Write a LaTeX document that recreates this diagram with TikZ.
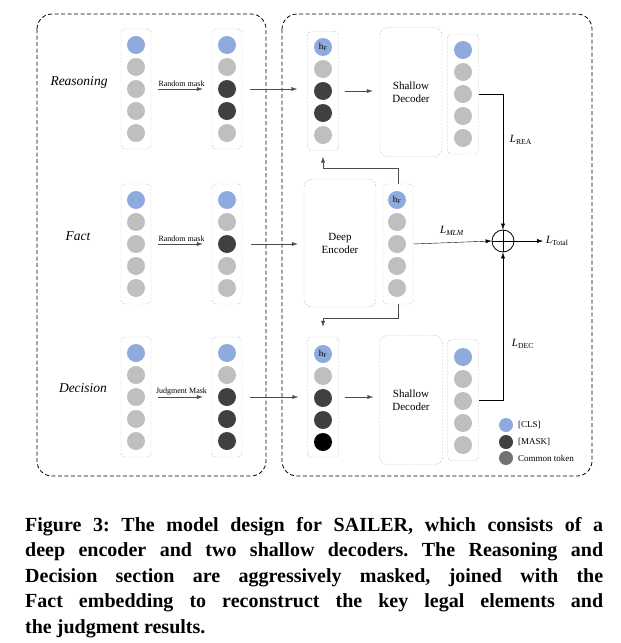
\documentclass[tikz,border=0pt]{standalone}
\usepackage{fontspec}
\setmainfont{Liberation Serif}
\usetikzlibrary{
  calc,positioning,
  arrows,arrows.meta
}
\definecolor{clsblue}{HTML}{8FAADC}
\definecolor{tokgray}{HTML}{BFBFBF}
\definecolor{mskdark}{HTML}{404040}
\definecolor{legray}{HTML}{767171}
\definecolor{boxgray}{HTML}{BDBDBD}

\begin{document}
\begin{tikzpicture}[x=1pt,y=-1pt,
  tok/.style={circle,minimum size=18pt,inner sep=0pt,font=\fontsize{9}{10}\selectfont},
  cls/.style={tok,fill=clsblue},
  com/.style={tok,fill=tokgray},
  msk/.style={tok,fill=mskdark},
  blk/.style={tok,fill=black},
  colbox/.style={draw=boxgray,dash pattern=on 2pt off 1.5pt,rounded corners=4pt,
    minimum width=30pt,minimum height=120pt,inner sep=0pt},
  modbox/.style={draw=boxgray,dash pattern=on 2pt off 1.5pt,rounded corners=8pt,
    align=center,inner sep=0pt,font=\fontsize{11}{13}\selectfont},
  outerbox/.style={draw,line width=0.8pt,dash pattern=on 4pt off 2.5pt,rounded corners=15pt},
  arr/.style={-{Latex[length=6pt,width=4pt]},draw=black!70},
  lossarr/.style={-{Latex[length=6pt,width=4pt]},draw=black},
  rowlab/.style={font=\fontsize{13.5}{15}\selectfont\itshape},
  masklab/.style={above,font=\fontsize{8}{9}\selectfont,inner sep=2pt},
  losslab/.style={font=\fontsize{11}{13}\selectfont},
  leg/.style={circle,minimum size=14pt,inner sep=0pt},
  legtxt/.style={right,font=\fontsize{9}{11}\selectfont,inner sep=0pt}
]
\useasboundingbox (0,0) rectangle (621,643);

% the two outer parts
\draw[outerbox] (37,14) rectangle (266,476);
\draw[outerbox] (282,14) rectangle (592,476);

% row labels
\node[rowlab] (reas) at (79,82) {Reasoning};
\node[rowlab] (fact) at (78,236) {Fact};
\node[rowlab] (deci) at (83,388) {Decision};

% reasoning: input and masked
\node[colbox] (rinb) at (136,89) {};
\node[cls] (rin1) at (136,45) {};
\node[com] (rin2) at (136,67) {};
\node[com] (rin3) at (136,89) {};
\node[com] (rin4) at (136,111) {};
\node[com] (rin5) at (136,133) {};
\node[colbox] (rmkb) at (227,89) {};
\node[cls] (rmk1) at (227,45) {};
\node[com] (rmk2) at (227,67) {};
\node[msk] (rmk3) at (227,89) {};
\node[msk] (rmk4) at (227,111) {};
\node[com] (rmk5) at (227,133) {};

% fact: input and masked
\node[colbox] (finb) at (136,244) {};
\node[cls] (fin1) at (136,200) {};
\node[com] (fin2) at (136,222) {};
\node[com] (fin3) at (136,244) {};
\node[com] (fin4) at (136,266) {};
\node[com] (fin5) at (136,288) {};
\node[colbox] (fmkb) at (227,244) {};
\node[cls] (fmk1) at (227,200) {};
\node[com] (fmk2) at (227,222) {};
\node[msk] (fmk3) at (227,244) {};
\node[com] (fmk4) at (227,266) {};
\node[com] (fmk5) at (227,288) {};

% decision: input and masked
\node[colbox] (dinb) at (136,397) {};
\node[cls] (din1) at (136,353) {};
\node[com] (din2) at (136,375) {};
\node[com] (din3) at (136,397) {};
\node[com] (din4) at (136,419) {};
\node[com] (din5) at (136,441) {};
\node[colbox] (dmkb) at (227,397) {};
\node[cls] (dmk1) at (227,353) {};
\node[com] (dmk2) at (227,375) {};
\node[msk] (dmk3) at (227,397) {};
\node[msk] (dmk4) at (227,419) {};
\node[msk] (dmk5) at (227,441) {};

\draw[arr,shorten <=7pt,shorten >=9pt] (rinb.east) -- (rmkb.west)
  node[masklab,midway] {Random mask};
\draw[arr,shorten <=7pt,shorten >=9pt] (finb.east) -- (fmkb.west)
  node[masklab,midway] {Random mask};
\draw[arr,shorten <=7pt,shorten >=9pt] (dinb.east) -- (dmkb.west)
  node[masklab,midway] {Judgment Mask};

% decoder for reasoning
\node[colbox,minimum width=31pt,minimum height=119pt] (rdib) at (323,91) {};
\node[cls] (rdi1) at (323,47) {h\textsubscript{F}};
\node[com] (rdi2) at (323,69) {};
\node[msk] (rdi3) at (323,91) {};
\node[msk] (rdi4) at (323,113) {};
\node[com] (rdi5) at (323,135) {};
\node[modbox,minimum width=62pt,minimum height=129pt] (sd1) at (411,92) {Shallow\\Decoder};
\node[colbox,minimum width=31pt] (rdob) at (463,94) {};
\node[cls] (rdo1) at (463,50) {};
\node[com] (rdo2) at (463,72) {};
\node[com] (rdo3) at (463,94) {};
\node[com] (rdo4) at (463,116) {};
\node[com] (rdo5) at (463,138) {};

% deep encoder
\node[modbox,minimum width=72pt,minimum height=128pt] (enc) at (340,243) {Deep\\Encoder};
\node[colbox] (eob) at (398,244) {};
\node[cls] (eo1) at (397,200) {h\textsubscript{F}};
\node[com] (eo2) at (397,222) {};
\node[com] (eo3) at (397,244) {};
\node[com] (eo4) at (397,266) {};
\node[com] (eo5) at (397,288) {};

% decoder for decision
\node[colbox,minimum width=31pt] (ddib) at (323,397) {};
\node[cls] (ddi1) at (323,354) {h\textsubscript{F}};
\node[com] (ddi2) at (323,376) {};
\node[msk] (ddi3) at (323,398) {};
\node[msk] (ddi4) at (323,420) {};
\node[blk] (ddi5) at (323,442) {};
\node[modbox,minimum width=63pt,minimum height=129pt] (sd2) at (411,400) {Shallow\\Decoder};
\node[colbox,minimum width=31pt,minimum height=121pt] (ddob) at (463,400) {};
\node[cls] (ddo1) at (463,357) {};
\node[com] (ddo2) at (463,379) {};
\node[com] (ddo3) at (463,401) {};
\node[com] (ddo4) at (463,423) {};
\node[com] (ddo5) at (463,445) {};

% inputs into the right part
\draw[arr,shorten <=8pt,shorten >=10pt] (rmkb.east) -- (rdib.west |- rmkb.east);
\draw[arr,shorten <=9pt,shorten >=6pt] (fmkb.east) -- (enc.west |- fmkb.east);
\draw[arr,shorten <=8pt,shorten >=9pt] (dmkb.east) -- (ddib.west |- dmkb.east);
\draw[arr,shorten <=6pt,shorten >=7pt] (rdib.east) -- (sd1.west |- rdib.east);
\draw[arr,shorten <=6pt,shorten >=6pt] (ddib.east) -- (sd2.west |- ddib.east);

% fact embedding to both decoders
\draw[arr] (eob.north) -- ++(0,-16) -| ([yshift=-6pt]rdib.south);
\draw[arr] (eob.south) -- ++(0,14) -| ([yshift=10pt]ddib.north);

% losses
\node[circle,draw,line width=0.8pt,minimum size=22pt,inner sep=0pt] (sum) at (503,241) {};
\draw[line width=0.8pt] (sum.north) -- (sum.south) (sum.west) -- (sum.east);
\draw[lossarr] (rdob.east) -- (rdob.east -| sum) -- (sum.north);
\draw[lossarr] (ddob.east) -- (ddob.east -| sum) -- (sum.south);
\draw[lossarr] (eob.east) -- (sum.west);
\node[losslab] (lrea) at (521,140) {\textit{L}\textsubscript{REA}};
\node[losslab] (ldec) at (523,344) {\textit{L}\textsubscript{DEC}};
\node[losslab] (lmlm) at (452,231) {\textit{L\textsubscript{MLM}}};
\node[losslab,right,inner sep=0pt] (ltot) at (546,241) {\textit{L}\textsubscript{Total}};
\draw[lossarr,shorten >=3pt] (sum.east) -- (ltot.west);

% legend
\node[leg,fill=clsblue] (lcls) at (506,425) {};
\node[leg,fill=mskdark] (lmsk) at (506,442) {};
\node[leg,fill=legray] (lcom) at (506,458) {};
\node[legtxt] at (518,425) {[CLS]};
\node[legtxt] at (518,442) {[MASK]};
\node[legtxt] at (518,458) {Common token};

% caption
\node[anchor=north west,text width=578pt,align=justify,inner sep=0pt,
  font=\fontsize{20}{25.5}\selectfont\bfseries\frenchspacing] (capt) at (25,517)
  {Figure 3: The model design for SAILER, which consists of a\linebreak
   deep encoder and two shallow decoders. The Reasoning and\linebreak
   Decision section are aggressively masked, joined with the\linebreak
   Fact embedding to reconstruct the key legal elements and\linebreak
   the judgment results.};
\end{tikzpicture}
\end{document}
